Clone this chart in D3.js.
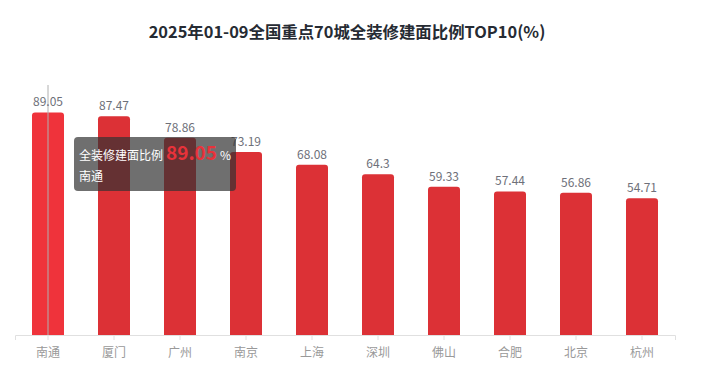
<!DOCTYPE html>
<html><head><meta charset="utf-8">
<script src="https://cdn.jsdelivr.net/npm/d3@7/dist/d3.min.js"></script>
<style>
body{margin:0;background:#fff;font-family:"Noto Sans CJK SC","Noto Sans",sans-serif;}
#wrap{position:relative;width:701px;height:381px;}
.tip{position:absolute;background:rgba(50,50,50,0.7);border-radius:4px;color:#fff;font-size:12px;padding:4px 5px 5px 5px;line-height:21px;white-space:nowrap;}
.tip .v{color:#e8323a;font-size:19px;font-weight:bold;margin:0 3px 0 3px;}
</style></head><body><div id="wrap"></div>
<script>
const title = "2025年01-09全国重点70城全装修建面比例TOP10(%)";
const categories = ["南通","厦门","广州","南京","上海","深圳","佛山","合肥","北京","杭州"];
const values = [89.05,87.47,78.86,73.19,68.08,64.3,59.33,57.44,56.86,54.71];
const seriesName = "全装修建面比例";
const highlightIndex = 0;

const W=701,H=381;
const svg=d3.select("#wrap").append("svg").attr("width",W).attr("height",H);
svg.append("text").attr("x",347).attr("y",38).attr("text-anchor","middle")
  .attr("font-size",16.4).attr("font-weight","bold").attr("fill","#262b33").text(title);

const x=d3.scaleBand().domain(categories).range([15,675]);
const y=d3.scaleLinear().domain([0,100]).range([335,85]);
const bw=32;

const r=3;
svg.selectAll("path.bar").data(values).enter().append("path").attr("class","bar")
  .attr("d",(d,i)=>{const x0=x(categories[i])+x.bandwidth()/2-bw/2,x1=x0+bw,y0=y(d),yb=y(0);
    return `M${x0},${yb}L${x0},${y0+r}Q${x0},${y0} ${x0+r},${y0}L${x1-r},${y0}Q${x1},${y0} ${x1},${y0+r}L${x1},${yb}Z`;})
  .attr("fill",(d,i)=>i===highlightIndex?"#ef333b":"#dc3136");

// axis pointer
svg.append("line").attr("x1",x(categories[highlightIndex])+x.bandwidth()/2).attr("x2",x(categories[highlightIndex])+x.bandwidth()/2)
  .attr("y1",85).attr("y2",335).attr("stroke","#b0b0b0").attr("stroke-width",1);

svg.selectAll("text.lbl").data(values).enter().append("text").attr("class","lbl")
  .attr("x",(d,i)=>x(categories[i])+x.bandwidth()/2).attr("y",d=>y(d)-6)
  .attr("text-anchor","middle").attr("font-size",12).attr("fill","#6e7079").text(d=>d);

const ax=svg.append("g").attr("transform","translate(0,335)")
  .call(d3.axisBottom(x).tickSize(5).tickPadding(8));
ax.select(".domain").attr("stroke","#e0e0e0");
ax.selectAll(".tick line").attr("stroke","#e0e0e0");
ax.selectAll(".tick text").attr("fill","#999").attr("font-size",12).attr("font-family","Noto Sans CJK SC");

const tip=d3.select("#wrap").append("div").attr("class","tip").style("left","74px").style("top","137px");
tip.html(`${seriesName}<span class="v">${values[highlightIndex]}</span>%<br>${categories[highlightIndex]}`);
</script></body></html>
